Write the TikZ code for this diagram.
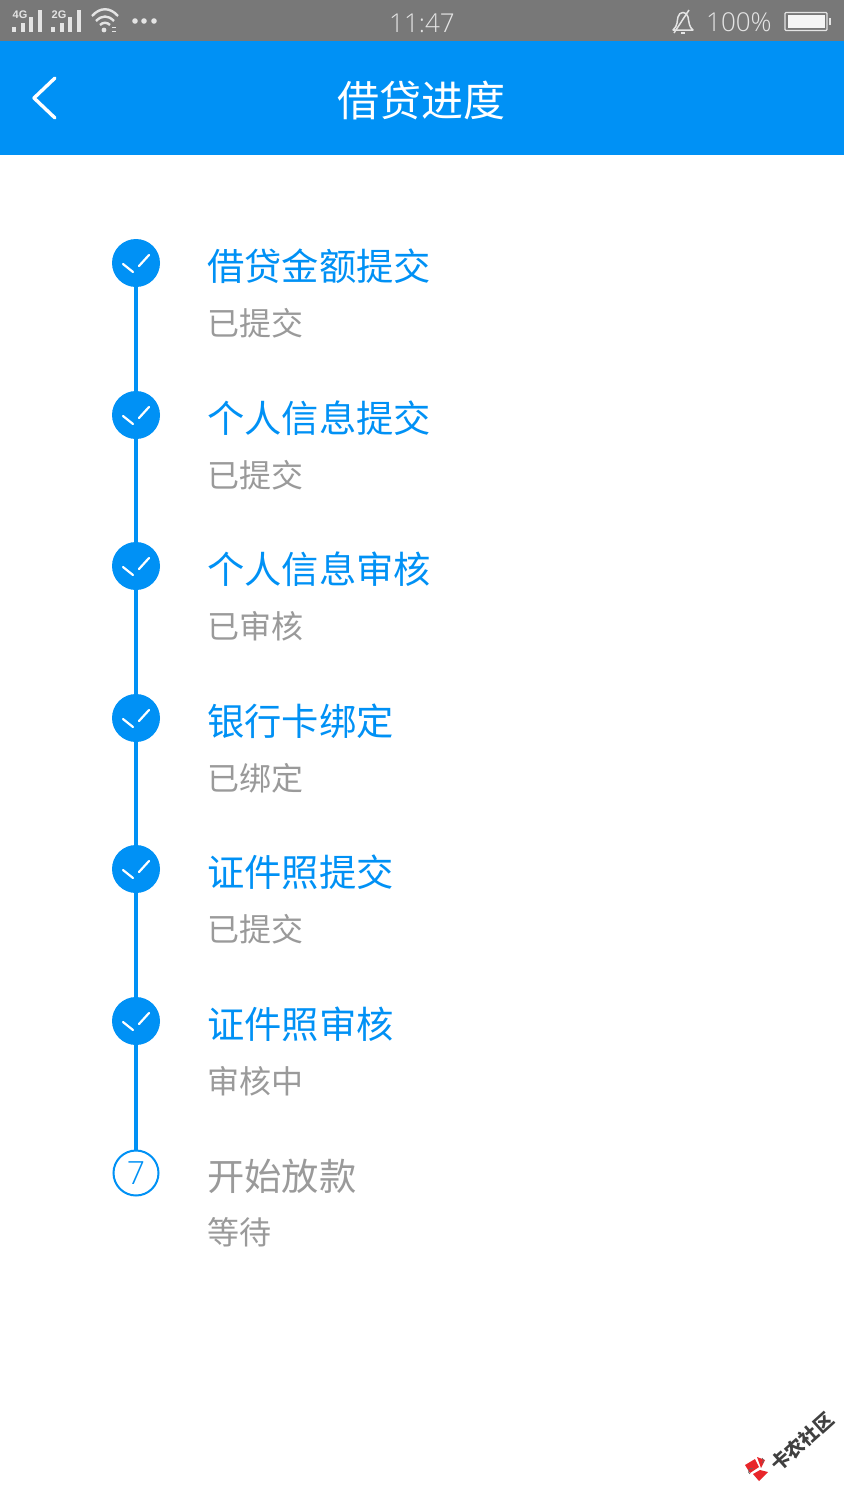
\documentclass[tikz,border=0pt]{standalone}
\usepackage{fontspec}
\setmainfont{Liberation Sans}
\newfontfamily\cjk{Noto Sans CJK SC}
\newfontfamily\lightlat{Open Sans Light}[]
\definecolor{appblue}{HTML}{0091F5}
\definecolor{barbg}{HTML}{787878}
\definecolor{barfg}{HTML}{E4E4E4}
\definecolor{subgray}{HTML}{9A9A9A}
\definecolor{wmred}{HTML}{E8262A}
\tikzset{
  x=1pt,y=-1pt,
  stepdot/.style={circle,fill=appblue,draw=none,minimum size=48pt,inner sep=0pt},
  stepopen/.style={circle,fill=white,draw=appblue,line width=2pt,minimum size=45pt,inner sep=0pt,text=appblue,font=\lightlat\fontsize{32}{32}\selectfont},
  steptitle/.style={anchor=west,inner sep=0pt,text=appblue,font=\cjk\fontsize{37.3}{40}\selectfont},
  stepsub/.style={anchor=west,inner sep=0pt,text=subgray,font=\cjk\fontsize{32}{36}\selectfont},
  link/.style={draw=appblue,line width=4pt},
  tick/.style={draw=white,line width=2.2pt,line cap=round},
  barline/.style={draw=barfg,line width=3.4pt},
  bartext/.style={inner sep=0pt,text=barfg},
}
\newcommand{\tickmark}[1]{%
  \draw[tick] ([shift={(-13,1)}]#1.center) -- ([shift={(-3,9)}]#1.center);
  \draw[tick] ([shift={(3,3)}]#1.center) -- ([shift={(13,-8)}]#1.center);
}
\begin{document}
\begin{tikzpicture}
\useasboundingbox (0,0) rectangle (844,1500);
\fill[white] (0,0) rectangle (844,1500);
\fill[barbg] (0,0) rectangle (844,41);
\fill[appblue] (0,41) rectangle (844,155);
% status bar left
\node[bartext,font=\bfseries\fontsize{11}{11}\selectfont] (sa) at (20,15) {4G};
\node[bartext,font=\bfseries\fontsize{11}{11}\selectfont] (sb) at (59,15) {2G};
\foreach \x/\t in {14/27,23/23,31/17,40/10,53/27,62/23,70/17,79/10}{\draw[barline] (\x,32) -- (\x,\t);}
\draw[barfg,line width=2.4pt] (92,16) .. controls (100,7) and (110,7) .. (118,16);
\draw[barfg,line width=2.4pt] (96,21) .. controls (102,15) and (108,15) .. (114,21);
\draw[barfg,line width=2.4pt] (100,25) .. controls (103,22) and (107,22) .. (110,25);
\fill[barfg] (104,30) circle (2.4);
\fill[barfg] (112,27) rectangle (116,28);\fill[barfg] (112,31) rectangle (116,32);
\foreach \x in {135,144,154}{\fill[barfg] (\x,21) circle (2.8);}
\node[bartext,font=\lightlat\fontsize{26}{26}\selectfont] (clock) at (422,23) {11:47};
\node[bartext,anchor=west,font=\lightlat\fontsize{26}{26}\selectfont] (pct) at (706,22) {100\%};
% bell
\draw[barfg,line width=1.5pt,line join=round] (673,30) .. controls (678,26) and (677,20) .. (678,17) .. controls (679,11) and (687,11) .. (688,17) .. controls (689,22) and (689,27) .. (693,30) -- cycle;
\draw[barfg,line width=1.5pt] (674,33) -- (689,10);
\draw[barfg,line width=1.5pt] (681,33) -- (685,33);
% battery
\draw[barfg,line width=1.3pt,fill=barbg,rounded corners=1pt] (785,12.5) rectangle (827,30.5);
\fill[white!96!black] (787.5,15) rectangle (824.5,28);
\fill[barfg] (829,18) rectangle (831,25);
% header
\draw[white,line width=3.4pt,line cap=round,line join=round] (55,78) -- (34,98) -- (55,118);
\node[inner sep=0pt,text=white,font=\cjk\fontsize{42}{44}\selectfont] (head) at (421.5,100) {借贷进度};
% step circles
\node[stepdot] (c1) at (136,263) {};
\node[stepdot] (c2) at (136,415) {};
\node[stepdot] (c3) at (136,566) {};
\node[stepdot] (c4) at (136,718) {};
\node[stepdot] (c5) at (136,869) {};
\node[stepdot] (c6) at (136,1021) {};
\node[stepopen] (c7) at (136,1173) {7};
\begin{scope}[on background layer/.try]
\end{scope}
\foreach \a/\b in {c1/c2,c2/c3,c3/c4,c4/c5,c5/c6,c6/c7}{\draw[link] (\a) -- (\b);}
\foreach \n in {c1,c2,c3,c4,c5,c6}{\tickmark{\n}}
% labels
\node[steptitle] (t1) at (207,266) {借贷金额提交};
\node[stepsub] (s1) at (207,323) {已提交};
\node[steptitle] (t2) at (207,418) {个人信息提交};
\node[stepsub] (s2) at (207,475) {已提交};
\node[steptitle] (t3) at (207,569) {个人信息审核};
\node[stepsub] (s3) at (207,626) {已审核};
\node[steptitle] (t4) at (207,721) {银行卡绑定};
\node[stepsub] (s4) at (207,778) {已绑定};
\node[steptitle] (t5) at (207,872) {证件照提交};
\node[stepsub] (s5) at (207,929) {已提交};
\node[steptitle] (t6) at (207,1024) {证件照审核};
\node[stepsub] (s6) at (207,1081) {审核中};
\node[steptitle,text=subgray] (t7) at (207,1176) {开始放款};
\node[stepsub] (s7) at (207,1232) {等待};
% watermark
\node[inner sep=0pt,rotate=42,text=black!75,font=\cjk\bfseries\fontsize{19}{19}\selectfont] (wm) at (802,1442) {卡农社区};
\fill[wmred] (745,1465) -- (755,1459) -- (759,1467) -- (750,1473) -- cycle;
\fill[wmred] (757,1457) -- (765,1460) -- (761,1468) -- cycle;
\fill[wmred] (760,1470) -- (768,1472) -- (759,1481) -- (753,1474) -- cycle;
\draw[black!60,line width=.7pt] (762,1458) arc (-60:60:3);
\draw[black!60,line width=.7pt] (750,1474) arc (120:300:3);
\end{tikzpicture}
\end{document}
